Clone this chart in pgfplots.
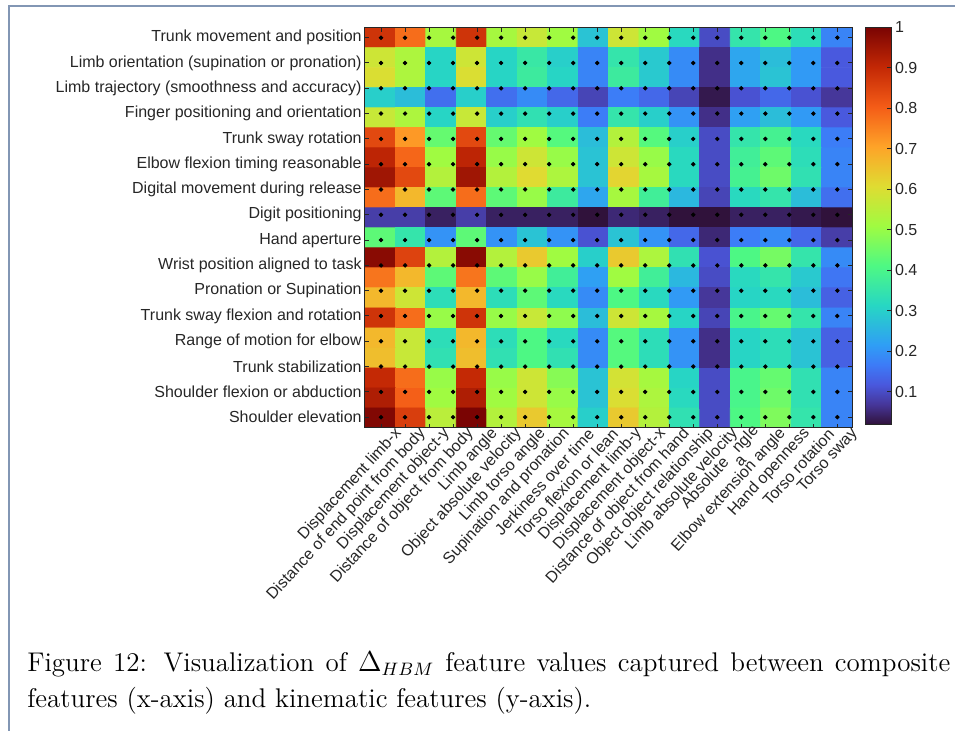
\documentclass[border=0pt]{standalone}
\usepackage{fontspec}
\usepackage{pgfplots}
\pgfplotsset{compat=1.18}
\newfontfamily\arialf{Liberation Sans}
\definecolor{axgray}{RGB}{38,38,38}
\definecolor{framec}{RGB}{130,150,180}
\pgfplotsset{
  colormap={turbo}{[1cm]
    rgb255(0cm)=(48,18,59) rgb255(1cm)=(70,54,153) rgb255(2cm)=(73,88,221)
    rgb255(3cm)=(61,123,247) rgb255(4cm)=(47,158,245) rgb255(6cm)=(39,215,195)
    rgb255(8cm)=(78,249,131) rgb255(10cm)=(160,251,65) rgb255(12cm)=(223,220,50)
    rgb255(14cm)=(254,163,40) rgb255(16cm)=(244,92,23) rgb255(18cm)=(195,40,5)
    rgb255(20cm)=(122,4,3)}
}
\begin{document}
\begin{tikzpicture}
\useasboundingbox (0,0) rectangle (477.5pt,-365.5pt);
\draw[framec, line width=0.6pt] (4.5pt,-366pt) -- (4.5pt,-3pt) -- (478pt,-3pt);
% image layer
\begin{axis}[
  at={(182.5pt,-214pt)}, anchor=south west,
  scale only axis, width=243.5pt, height=200.15pt,
  xmin=0.5, xmax=16.5, ymin=0.5, ymax=20.5,
  hide axis,
  colormap name=turbo,
  point meta min=0.02, point meta max=1,
  colorbar,
  colorbar style={
    at={(parent axis.north east)}, anchor=north west, xshift=-1.9pt, yshift=0.2pt,
    width=13.2pt, height=198.5pt,
    ytick={0.1,0.2,0.3,0.4,0.5,0.6,0.7,0.8,0.9,1},
    yticklabels={0.1,0.2,0.3,0.4,0.5,0.6,0.7,0.8,0.9,1},
    ytick pos=right, yticklabel pos=right,
    tick align=inside, major tick length=2.2pt,
    yticklabel style={font=\arialf\fontsize{8}{9.6}\selectfont, text=axgray, inner sep=1.5pt},
    axis line style={axgray, line width=0.5pt},
    tick style={axgray, line width=0.5pt},
  },
]
\addplot[matrix plot*, mesh/cols=16, point meta=explicit] coordinates {
(1,20)[0.88] (2,20)[0.78] (3,20)[0.52] (4,20)[0.88] (5,20)[0.52] (6,20)[0.57] (7,20)[0.51] (8,20)[0.28] (9,20)[0.58] (10,20)[0.51] (11,20)[0.32] (12,20)[0.10] (13,20)[0.35] (14,20)[0.41] (15,20)[0.33] (16,20)[0.18]
(1,19)[0.58] (2,19)[0.53] (3,19)[0.31] (4,19)[0.58] (5,19)[0.31] (6,19)[0.36] (7,19)[0.30] (8,19)[0.18] (9,19)[0.35] (10,19)[0.29] (11,19)[0.19] (12,19)[0.06] (13,19)[0.23] (14,19)[0.27] (15,19)[0.21] (16,19)[0.12]
(1,18)[0.60] (2,18)[0.53] (3,18)[0.31] (4,18)[0.60] (5,18)[0.31] (6,18)[0.37] (7,18)[0.31] (8,18)[0.18] (9,18)[0.37] (10,18)[0.29] (11,18)[0.19] (12,18)[0.06] (13,18)[0.23] (14,18)[0.28] (15,18)[0.21] (16,18)[0.12]
(1,17)[0.30] (2,17)[0.27] (3,17)[0.15] (4,17)[0.30] (5,17)[0.15] (6,17)[0.19] (7,17)[0.14] (8,17)[0.09] (9,17)[0.17] (10,17)[0.14] (11,17)[0.09] (12,17)[0.03] (13,17)[0.11] (14,17)[0.14] (15,17)[0.11] (16,17)[0.07]
(1,16)[0.57] (2,16)[0.53] (3,16)[0.31] (4,16)[0.57] (5,16)[0.30] (6,16)[0.34] (7,16)[0.30] (8,16)[0.17] (9,16)[0.35] (10,16)[0.30] (11,16)[0.20] (12,16)[0.06] (13,16)[0.22] (14,16)[0.27] (15,16)[0.21] (16,16)[0.12]
(1,15)[0.84] (2,15)[0.72] (3,15)[0.44] (4,15)[0.84] (5,15)[0.44] (6,15)[0.51] (7,15)[0.42] (8,15)[0.27] (9,15)[0.54] (10,15)[0.42] (11,15)[0.30] (12,15)[0.10] (13,15)[0.35] (14,15)[0.39] (15,15)[0.32] (16,15)[0.17]
(1,14)[0.91] (2,14)[0.79] (3,14)[0.51] (4,14)[0.91] (5,14)[0.50] (6,14)[0.58] (7,14)[0.50] (8,14)[0.28] (9,14)[0.58] (10,14)[0.50] (11,14)[0.32] (12,14)[0.10] (13,14)[0.38] (14,14)[0.43] (15,14)[0.33] (16,14)[0.18]
(1,13)[0.95] (2,13)[0.84] (3,13)[0.54] (4,13)[0.95] (5,13)[0.54] (6,13)[0.61] (7,13)[0.53] (8,13)[0.28] (9,13)[0.62] (10,13)[0.52] (11,13)[0.32] (12,13)[0.10] (13,13)[0.39] (14,13)[0.45] (15,13)[0.34] (16,13)[0.18]
(1,12)[0.78] (2,12)[0.67] (3,12)[0.43] (4,12)[0.78] (5,12)[0.43] (6,12)[0.50] (7,12)[0.37] (8,12)[0.23] (9,12)[0.52] (10,12)[0.38] (11,12)[0.26] (12,12)[0.09] (13,12)[0.32] (14,12)[0.35] (15,12)[0.27] (16,12)[0.15]
(1,11)[0.08] (2,11)[0.08] (3,11)[0.04] (4,11)[0.08] (5,11)[0.04] (6,11)[0.04] (7,11)[0.04] (8,11)[0.02] (9,11)[0.05] (10,11)[0.04] (11,11)[0.02] (12,11)[0.01] (13,11)[0.04] (14,11)[0.04] (15,11)[0.03] (16,11)[0.02]
(1,10)[0.43] (2,10)[0.35] (3,10)[0.20] (4,10)[0.43] (5,10)[0.20] (6,10)[0.28] (7,10)[0.20] (8,10)[0.11] (9,10)[0.28] (10,10)[0.20] (11,10)[0.14] (12,10)[0.05] (13,10)[0.17] (14,10)[0.19] (15,10)[0.14] (16,10)[0.08]
(1,9)[0.98] (2,9)[0.85] (3,9)[0.54] (4,9)[0.98] (5,9)[0.54] (6,9)[0.64] (7,9)[0.51] (8,9)[0.30] (9,9)[0.64] (10,9)[0.53] (11,9)[0.34] (12,9)[0.11] (13,9)[0.41] (14,9)[0.46] (15,9)[0.35] (16,9)[0.19]
(1,8)[0.77] (2,8)[0.67] (3,8)[0.43] (4,8)[0.77] (5,8)[0.43] (6,8)[0.50] (7,8)[0.38] (8,8)[0.22] (9,8)[0.51] (10,8)[0.38] (11,8)[0.26] (12,8)[0.10] (13,8)[0.32] (14,8)[0.35] (15,8)[0.29] (16,8)[0.16]
(1,7)[0.67] (2,7)[0.58] (3,7)[0.33] (4,7)[0.67] (5,7)[0.33] (6,7)[0.43] (7,7)[0.32] (8,7)[0.19] (9,7)[0.41] (10,7)[0.32] (11,7)[0.21] (12,7)[0.07] (13,7)[0.31] (14,7)[0.32] (15,7)[0.27] (16,7)[0.13]
(1,6)[0.88] (2,6)[0.78] (3,6)[0.50] (4,6)[0.88] (5,6)[0.50] (6,6)[0.57] (7,6)[0.49] (8,6)[0.27] (9,6)[0.58] (10,6)[0.52] (11,6)[0.31] (12,6)[0.09] (13,6)[0.40] (14,6)[0.44] (15,6)[0.35] (16,6)[0.18]
(1,5)[0.67] (2,5)[0.57] (3,5)[0.33] (4,5)[0.67] (5,5)[0.33] (6,5)[0.41] (7,5)[0.32] (8,5)[0.19] (9,5)[0.42] (10,5)[0.33] (11,5)[0.20] (12,5)[0.06] (13,5)[0.31] (14,5)[0.33] (15,5)[0.28] (16,5)[0.13]
(1,4)[0.66] (2,4)[0.57] (3,4)[0.34] (4,4)[0.66] (5,4)[0.34] (6,4)[0.41] (7,4)[0.34] (8,4)[0.19] (9,4)[0.42] (10,4)[0.33] (11,4)[0.20] (12,4)[0.06] (13,4)[0.31] (14,4)[0.33] (15,4)[0.28] (16,4)[0.13]
(1,3)[0.90] (2,3)[0.78] (3,3)[0.50] (4,3)[0.90] (5,3)[0.50] (6,3)[0.58] (7,3)[0.48] (8,3)[0.28] (9,3)[0.59] (10,3)[0.52] (11,3)[0.31] (12,3)[0.10] (13,3)[0.40] (14,3)[0.44] (15,3)[0.34] (16,3)[0.18]
(1,2)[0.93] (2,2)[0.80] (3,2)[0.51] (4,2)[0.93] (5,2)[0.51] (6,2)[0.58] (7,2)[0.50] (8,2)[0.28] (9,2)[0.60] (10,2)[0.53] (11,2)[0.32] (12,2)[0.10] (13,2)[0.40] (14,2)[0.45] (15,2)[0.34] (16,2)[0.18]
(1,1)[0.99] (2,1)[0.86] (3,1)[0.55] (4,1)[1.00] (5,1)[0.54] (6,1)[0.64] (7,1)[0.52] (8,1)[0.30] (9,1)[0.64] (10,1)[0.54] (11,1)[0.34] (12,1)[0.10] (13,1)[0.41] (14,1)[0.47] (15,1)[0.35] (16,1)[0.18]
};
\end{axis}
% main axis with ticks and dots
\begin{axis}[
  at={(182.5pt,-214pt)}, anchor=south west,
  scale only axis, width=243.5pt, height=200.15pt,
  xmin=0.333, xmax=20.61, ymin=0.573, ymax=16.395,
  xtick={1,...,20}, ytick={1,...,16},
  xticklabels={Displacement limb-x, Distance of end point from body, Displacement object-y, Distance of object from body, Limb angle, Object absolute velocity, Limb torso angle, Supination and pronation, Jerkiness over time, Torso flexion or lean, Displacement limb-y, Displacement object-x, Distance of object from hand, Object object relationship, Limb absolute velocity, {Absolute \raisebox{-0.7em}{a}ngle}, Elbow extension angle, Hand openness, Torso rotation, Torso sway},
  yticklabels={Shoulder elevation, Shoulder flexion or abduction, Trunk stabilization, Range of motion for elbow, Trunk sway flexion and rotation, Pronation or Supination, Wrist position aligned to task, Hand aperture, Digit positioning, Digital movement during release, Elbow flexion timing reasonable, Trunk sway rotation, Finger positioning and orientation, Limb trajectory (smoothness and accuracy), Limb orientation (supination or pronation), Trunk movement and position},
  tick align=inside, xtick pos=both, ytick pos=both,
  xticklabel pos=lower, yticklabel pos=left,
  major tick length=2.2pt,
  axis line style={axgray, line width=0.5pt},
  tick style={axgray, line width=0.5pt},
  yticklabel style={font=\arialf\fontsize{8}{9.6}\selectfont, text=axgray, inner sep=1.5pt},
  xticklabel style={font=\arialf\fontsize{8}{9.6}\selectfont, text=axgray, rotate=47.5, anchor=east, inner sep=0pt, xshift=5pt, yshift=-7.6pt},
]
\addplot[only marks, mark=*, mark size=0.9pt, black] coordinates {
(1,1)(2,1)(3,1)(4,1)(5,1)(6,1)(7,1)(8,1)(9,1)(10,1)(11,1)(12,1)(13,1)(14,1)(15,1)(16,1)(17,1)(18,1)(19,1)(20,1)
(1,2)(2,2)(3,2)(4,2)(5,2)(6,2)(7,2)(8,2)(9,2)(10,2)(11,2)(12,2)(13,2)(14,2)(15,2)(16,2)(17,2)(18,2)(19,2)(20,2)
(1,3)(2,3)(3,3)(4,3)(5,3)(6,3)(7,3)(8,3)(9,3)(10,3)(11,3)(12,3)(13,3)(14,3)(15,3)(16,3)(17,3)(18,3)(19,3)(20,3)
(1,4)(2,4)(3,4)(4,4)(5,4)(6,4)(7,4)(8,4)(9,4)(10,4)(11,4)(12,4)(13,4)(14,4)(15,4)(16,4)(17,4)(18,4)(19,4)(20,4)
(1,5)(2,5)(3,5)(4,5)(5,5)(6,5)(7,5)(8,5)(9,5)(10,5)(11,5)(12,5)(13,5)(14,5)(15,5)(16,5)(17,5)(18,5)(19,5)(20,5)
(1,6)(2,6)(3,6)(4,6)(5,6)(6,6)(7,6)(8,6)(9,6)(10,6)(11,6)(12,6)(13,6)(14,6)(15,6)(16,6)(17,6)(18,6)(19,6)(20,6)
(1,7)(2,7)(3,7)(4,7)(5,7)(6,7)(7,7)(8,7)(9,7)(10,7)(11,7)(12,7)(13,7)(14,7)(15,7)(16,7)(17,7)(18,7)(19,7)(20,7)
(1,8)(2,8)(3,8)(4,8)(5,8)(6,8)(7,8)(8,8)(9,8)(10,8)(11,8)(12,8)(13,8)(14,8)(15,8)(16,8)(17,8)(18,8)(19,8)(20,8)
(1,9)(2,9)(3,9)(4,9)(5,9)(6,9)(7,9)(8,9)(9,9)(10,9)(11,9)(12,9)(13,9)(14,9)(15,9)(16,9)(17,9)(18,9)(19,9)(20,9)
(1,10)(2,10)(3,10)(4,10)(5,10)(6,10)(7,10)(8,10)(9,10)(10,10)(11,10)(12,10)(13,10)(14,10)(15,10)(16,10)(17,10)(18,10)(19,10)(20,10)
(1,11)(2,11)(3,11)(4,11)(5,11)(6,11)(7,11)(8,11)(9,11)(10,11)(11,11)(12,11)(13,11)(14,11)(15,11)(16,11)(17,11)(18,11)(19,11)(20,11)
(1,12)(2,12)(3,12)(4,12)(5,12)(6,12)(7,12)(8,12)(9,12)(10,12)(11,12)(12,12)(13,12)(14,12)(15,12)(16,12)(17,12)(18,12)(19,12)(20,12)
(1,13)(2,13)(3,13)(4,13)(5,13)(6,13)(7,13)(8,13)(9,13)(10,13)(11,13)(12,13)(13,13)(14,13)(15,13)(16,13)(17,13)(18,13)(19,13)(20,13)
(1,14)(2,14)(3,14)(4,14)(5,14)(6,14)(7,14)(8,14)(9,14)(10,14)(11,14)(12,14)(13,14)(14,14)(15,14)(16,14)(17,14)(18,14)(19,14)(20,14)
(1,15)(2,15)(3,15)(4,15)(5,15)(6,15)(7,15)(8,15)(9,15)(10,15)(11,15)(12,15)(13,15)(14,15)(15,15)(16,15)(17,15)(18,15)(19,15)(20,15)
(1,16)(2,16)(3,16)(4,16)(5,16)(6,16)(7,16)(8,16)(9,16)(10,16)(11,16)(12,16)(13,16)(14,16)(15,16)(16,16)(17,16)(18,16)(19,16)(20,16)
};
\end{axis}
\node[anchor=north west, inner sep=0pt, text width=461.5pt, align=justify,
      font=\fontsize{13.5}{18}\selectfont] at (13.5pt,-325.5pt)
  {Figure 12: Visualization of $\Delta_{HBM}$ feature values captured between composite\linebreak features (x-axis) and kinematic features (y-axis).};
\end{tikzpicture}
\end{document}
